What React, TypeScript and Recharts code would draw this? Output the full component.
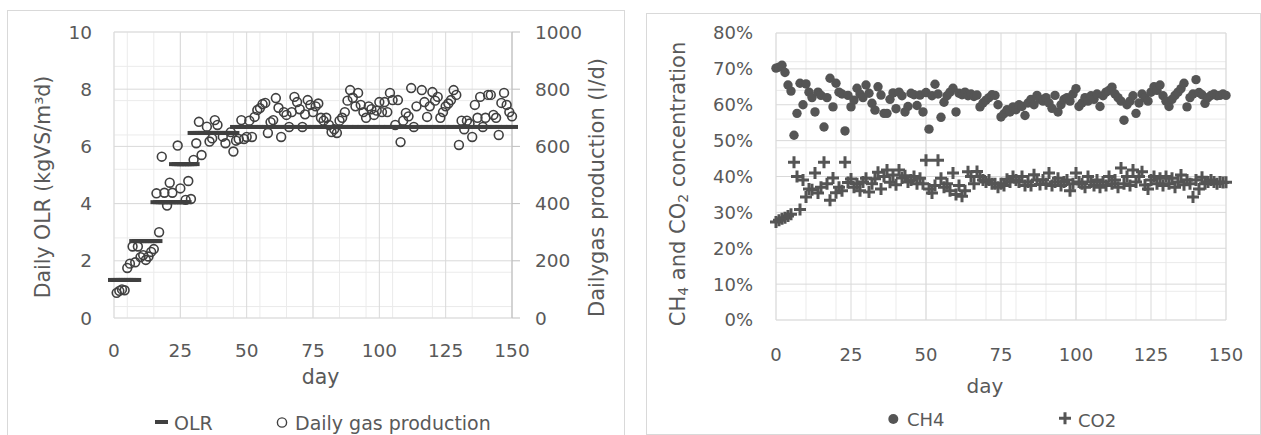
import React from 'react';
import { ScatterChart, Scatter, XAxis, YAxis, CartesianGrid, Legend, Label } from 'recharts';

const FONT = 'DejaVu Sans';
const TEXT = '#595959';
const MARK = '#404040';
const DOT = '#555555';
const GRID = '#d9d9d9';
const GRID_MINOR = '#ebebeb';

const dayTicks = [0, 25, 50, 75, 100, 125, 150];
const dayMinorTicks = [0, 5, 10, 15, 20, 25, 30, 35, 40, 45, 50, 55, 60, 65, 70, 75, 80, 85, 90, 95, 100, 105, 110, 115, 120, 125, 130, 135, 140, 145, 150];
const olrTicks = [0, 2, 4, 6, 8, 10];
const olrMinorTicks = [0, 0.4, 0.8, 1.2, 1.6, 2, 2.4, 2.8, 3.2, 3.6, 4, 4.4, 4.8, 5.2, 5.6, 6, 6.4, 6.8, 7.2, 7.6, 8, 8.4, 8.8, 9.2, 9.6, 10];
const gasTicks = [0, 200, 400, 600, 800, 1000];
const pctTicks = [0, 10, 20, 30, 40, 50, 60, 70, 80];
const pctMinorTicks = [0, 2, 4, 6, 8, 10, 12, 14, 16, 18, 20, 22, 24, 26, 28, 30, 32, 34, 36, 38, 40, 42, 44, 46, 48, 50, 52, 54, 56, 58, 60, 62, 64, 66, 68, 70, 72, 74, 76, 78, 80];

// OLR (kgVS/m3d), [day, value]
const olr: [number, number][] = [
  [0, 1.33], [1, 1.33], [2, 1.33], [3, 1.33], [4, 1.33], [5, 1.33], [6, 1.33], [7, 1.33], [8, 1.33],
  [8, 2.69], [9, 2.69], [10, 2.69], [11, 2.69], [12, 2.69], [13, 2.69], [14, 2.69], [15, 2.69], [16, 2.69],
  [16, 4.05], [17, 4.05], [18, 4.05], [19, 4.05], [20, 4.05], [21, 4.05], [22, 4.05], [23, 4.05], [24, 4.05], [25, 4.05], [26, 4.05], [27, 4.05],
  [23, 5.38], [24, 5.38], [25, 5.38], [26, 5.38], [27, 5.38], [28, 5.38], [29, 5.38], [30, 5.38],
  [30, 6.47], [31, 6.47], [32, 6.47], [33, 6.47], [34, 6.47], [35, 6.47], [36, 6.47], [37, 6.47], [38, 6.47], [39, 6.47], [40, 6.47], [41, 6.47], [42, 6.47], [43, 6.47], [44, 6.47], [45, 6.47],
  [46, 6.68], [48, 6.68], [50, 6.68], [52, 6.68], [54, 6.68], [56, 6.68], [58, 6.68], [60, 6.68], [62, 6.68], [64, 6.68],
  [66, 6.68], [68, 6.68], [70, 6.68], [72, 6.68], [74, 6.68], [76, 6.68], [78, 6.68], [80, 6.68], [82, 6.68], [84, 6.68],
  [86, 6.68], [88, 6.68], [90, 6.68], [92, 6.68], [94, 6.68], [96, 6.68], [98, 6.68], [100, 6.68], [102, 6.68], [104, 6.68],
  [106, 6.68], [108, 6.68], [110, 6.68], [112, 6.68], [114, 6.68], [116, 6.68], [118, 6.68], [120, 6.68], [122, 6.68], [124, 6.68],
  [126, 6.68], [128, 6.68], [130, 6.68], [132, 6.68], [134, 6.68], [136, 6.68], [138, 6.68], [140, 6.68], [142, 6.68], [144, 6.68],
  [146, 6.68], [148, 6.68], [150, 6.68],
];

// daily gas production (l/d), [day, value]
const gasProduction: [number, number][] = [
  [1, 88], [2, 95], [3, 100], [4, 97], [5, 175], [6, 190], [7, 250], [8, 195], [9, 250], [10, 213],
  [11, 220], [12, 203], [13, 215], [14, 231], [15, 241], [16, 436], [17, 300], [18, 564], [19, 438], [20, 393],
  [21, 473], [22, 438], [24, 603], [25, 453], [27, 413], [28, 479], [29, 416], [30, 553], [31, 611], [32, 686],
  [33, 570], [35, 669], [36, 617], [37, 628], [38, 692], [39, 675], [41, 634], [42, 611], [44, 650], [45, 582],
  [46, 620], [47, 626], [48, 692], [49, 626], [50, 633], [51, 690], [52, 633], [53, 703], [54, 727], [55, 734],
  [56, 748], [57, 752], [58, 647], [59, 685], [60, 692], [61, 769], [62, 735], [63, 633], [64, 720], [65, 710],
  [66, 668], [67, 720], [68, 773], [69, 755], [70, 730], [71, 668], [72, 712], [73, 762], [74, 745], [75, 720],
  [76, 740], [77, 750], [78, 700], [79, 690], [80, 700], [81, 675], [82, 650], [83, 660], [84, 647], [85, 690],
  [86, 700], [87, 720], [88, 760], [89, 797], [90, 770], [91, 740], [92, 787], [93, 745], [94, 720], [95, 700],
  [96, 740], [97, 730], [98, 710], [99, 725], [100, 755], [101, 720], [102, 755], [103, 720], [104, 787], [105, 762],
  [106, 675], [107, 762], [108, 615], [109, 690], [110, 717], [111, 705], [112, 804], [113, 668], [114, 740], [116, 797],
  [117, 755], [118, 703], [119, 740], [120, 790], [121, 760], [122, 773], [123, 700], [124, 720], [125, 740], [126, 750],
  [127, 762], [128, 797], [129, 780], [130, 605], [131, 690], [132, 660], [133, 690], [134, 680], [135, 633], [136, 745],
  [137, 700], [138, 773], [139, 668], [140, 700], [141, 780], [142, 780], [143, 710], [144, 700], [145, 640], [146, 752],
  [147, 787], [148, 745], [149, 720], [150, 705],
];

// CH4 content (%), [day, value]
const ch4: [number, number][] = [
  [0, 70.2], [1, 70.5], [2, 71.0], [3, 69.0], [4, 65.5], [5, 63.8], [6, 51.5], [7, 57.6], [8, 66.0], [9, 60.0],
  [10, 65.8], [11, 63.5], [12, 62.0], [13, 58.0], [14, 63.5], [15, 62.6], [16, 53.8], [17, 62.0], [18, 67.4], [19, 59.4],
  [20, 66.0], [21, 63.5], [22, 63.0], [23, 52.7], [24, 62.6], [25, 59.4], [26, 61.3], [27, 64.6], [28, 63.0], [29, 62.0],
  [30, 65.5], [31, 63.2], [32, 60.4], [33, 58.5], [34, 65.0], [35, 62.7], [36, 57.6], [37, 57.6], [38, 61.5], [39, 63.3],
  [40, 58.9], [41, 63.5], [42, 62.5], [43, 58.0], [44, 59.5], [45, 63.2], [46, 62.8], [47, 59.8], [48, 62.7], [49, 58.0],
  [50, 63.4], [51, 53.2], [52, 62.5], [53, 65.7], [54, 63.0], [55, 56.5], [56, 60.7], [57, 62.5], [58, 63.5], [59, 64.6],
  [60, 58.0], [61, 63.2], [62, 62.8], [63, 63.5], [64, 62.5], [65, 63.0], [66, 62.3], [67, 62.7], [68, 59.4], [69, 60.5],
  [70, 61.3], [71, 62.0], [72, 62.8], [73, 62.6], [74, 60.0], [75, 56.6], [76, 57.5], [77, 58.6], [78, 58.0], [79, 59.4],
  [80, 58.6], [81, 60.0], [82, 59.5], [83, 57.0], [84, 60.5], [85, 61.5], [86, 60.0], [87, 62.6], [88, 61.5], [89, 61.0],
  [90, 62.0], [91, 60.5], [92, 59.0], [93, 62.6], [94, 58.0], [95, 60.0], [96, 61.5], [97, 62.0], [98, 61.0], [99, 63.0],
  [100, 64.5], [101, 59.5], [102, 60.5], [103, 62.0], [104, 61.0], [105, 62.5], [106, 61.5], [107, 63.0], [108, 59.5], [109, 62.5],
  [110, 63.5], [111, 64.0], [112, 64.9], [113, 63.0], [114, 62.0], [115, 61.0], [116, 55.7], [117, 60.0], [118, 61.0], [119, 62.5],
  [120, 57.6], [121, 60.5], [122, 63.0], [123, 62.0], [124, 61.0], [125, 63.5], [126, 65.0], [127, 64.0], [128, 65.5], [129, 62.5],
  [130, 61.0], [131, 59.5], [132, 61.5], [133, 62.6], [134, 63.5], [135, 64.5], [136, 66.0], [137, 59.4], [138, 62.0], [139, 63.0],
  [140, 67.0], [141, 63.4], [142, 62.8], [143, 60.4], [144, 62.0], [145, 62.6], [146, 63.0], [147, 62.5], [148, 62.6], [149, 63.0],
  [150, 62.6],
];

// CO2 content (%), [day, value]
const co2: [number, number][] = [
  [0, 27.3], [1, 27.8], [2, 28.2], [3, 28.5], [4, 29.0], [5, 29.5], [6, 44.0], [7, 40.0], [8, 30.8], [9, 39.0],
  [10, 34.3], [11, 36.5], [12, 36.3], [13, 41.0], [14, 35.4], [15, 37.0], [16, 44.0], [17, 38.0], [18, 33.4], [19, 39.6],
  [20, 35.5], [21, 37.0], [22, 36.0], [23, 44.0], [24, 38.3], [25, 39.3], [26, 37.0], [27, 38.0], [28, 36.0], [29, 38.5],
  [30, 39.5], [31, 35.7], [32, 38.0], [33, 39.4], [34, 41.2], [35, 36.5], [36, 40.0], [37, 41.8], [38, 38.4], [39, 40.4],
  [40, 37.7], [41, 41.8], [42, 39.6], [43, 40.2], [44, 38.5], [45, 39.0], [46, 40.0], [47, 38.0], [48, 39.5], [49, 38.0],
  [50, 44.5], [51, 36.5], [52, 35.4], [53, 37.5], [54, 44.5], [55, 39.5], [56, 37.0], [57, 38.0], [58, 36.0], [59, 41.0],
  [60, 35.0], [61, 37.5], [62, 34.5], [63, 36.0], [64, 41.3], [65, 40.0], [66, 38.0], [67, 41.4], [68, 40.0], [69, 39.0],
  [70, 38.5], [71, 39.0], [72, 38.0], [73, 38.0], [74, 37.0], [75, 38.0], [76, 37.5], [77, 39.2], [78, 38.5], [79, 40.0],
  [80, 39.0], [81, 38.5], [82, 40.0], [83, 37.5], [84, 38.5], [85, 37.5], [86, 40.5], [87, 39.0], [88, 37.8], [89, 39.0],
  [90, 38.0], [91, 41.0], [92, 37.5], [93, 38.5], [94, 39.5], [95, 37.5], [96, 38.5], [97, 39.0], [98, 36.0], [99, 38.0],
  [100, 41.0], [101, 38.5], [102, 38.0], [103, 37.0], [104, 40.0], [105, 38.5], [106, 37.5], [107, 39.0], [108, 37.0], [109, 38.5],
  [110, 37.5], [111, 40.0], [112, 38.0], [113, 39.0], [114, 37.0], [115, 42.4], [116, 38.0], [117, 40.0], [118, 37.5], [119, 41.8],
  [120, 38.5], [121, 40.0], [122, 41.3], [123, 37.6], [124, 36.5], [125, 39.0], [126, 40.0], [127, 38.0], [128, 39.5], [129, 37.5],
  [130, 40.0], [131, 38.0], [132, 39.5], [133, 37.0], [134, 38.5], [135, 40.4], [136, 37.7], [137, 39.0], [138, 38.0], [139, 34.3],
  [140, 39.0], [141, 36.5], [142, 39.8], [143, 38.0], [144, 38.5], [145, 39.0], [146, 38.5], [147, 38.0], [148, 38.5], [149, 38.3],
  [150, 38.4],
];

const toPoints = (rows: [number, number][]) => rows.map(([x, y]) => ({ x, y }));

const tickStyle = (size: number) => ({ fill: TEXT, fontSize: size, fontFamily: FONT });

const DashMark = (p: any) => <rect x={p.cx - 6} y={p.cy - 2} width={12} height={4} fill={MARK} />;
const RingMark = (p: any) => <circle cx={p.cx} cy={p.cy} r={4.4} fill="none" stroke={MARK} strokeWidth={1.6} />;
const DotMark = (p: any) => <circle cx={p.cx} cy={p.cy} r={4.7} fill={DOT} />;
const PlusMark = (p: any) => (
  <path d={`M${p.cx - 6},${p.cy}h12M${p.cx},${p.cy - 6}v12`} stroke={DOT} strokeWidth={3} fill="none" />
);

function LoadingChart() {
  return (
    <ScatterChart width={616} height={425} margin={{ top: 22, right: 41, bottom: 37, left: 47 }}>
      <XAxis xAxisId="minor" type="number" dataKey="x" domain={[0, 150]} ticks={dayMinorTicks} allowDataOverflow hide />
      <YAxis yAxisId="minor" type="number" dataKey="y" domain={[0, 10]} ticks={olrMinorTicks} allowDataOverflow hide />
      <CartesianGrid xAxisId="minor" yAxisId="minor" stroke={GRID_MINOR} />
      <CartesianGrid yAxisId="left" stroke={GRID} />
      <XAxis type="number" dataKey="x" domain={[0, 150]} ticks={dayTicks} interval={0} height={80}
        axisLine={false} tickLine={false} tickSize={0} tickMargin={26} tick={tickStyle(18.5)}>
        <Label content={() => (
          <text x={313.5} y={374.3} textAnchor="middle" fill={TEXT} fontSize={20.5} fontFamily={FONT}>day</text>
        )} />
      </XAxis>
      <YAxis yAxisId="left" type="number" dataKey="y" domain={[0, 10]} ticks={olrTicks} interval={0} width={60}
        axisLine={false} tickLine={false} tickSize={0} tickMargin={22} tick={tickStyle(18.5)}>
        <Label content={() => (
          <text x={36} y={177} transform="rotate(-90 36 177)" textAnchor="middle" dominantBaseline="central"
            fill={TEXT} fontSize={20.5} fontFamily={FONT}>Daily OLR (kgVS/m³d)</text>
        )} />
      </YAxis>
      <YAxis yAxisId="right" orientation="right" type="number" dataKey="y" domain={[0, 1000]} ticks={gasTicks} interval={0}
        width={70} axisLine={{ stroke: '#bfbfbf' }} tickLine={{ stroke: '#bfbfbf' }} tickSize={8} tickMargin={15}
        tick={tickStyle(18.5)}>
        <Label content={() => (
          <text x={590} y={177.5} transform="rotate(-90 590 177.5)" textAnchor="middle" dominantBaseline="central"
            fill={TEXT} fontSize={21} fontFamily={FONT}>Dailygas production (l/d)</text>
        )} />
      </YAxis>
      <Scatter name="Daily gas production" yAxisId="right" data={toPoints(gasProduction)} shape={RingMark} isAnimationActive={false} />
      <Scatter name="OLR" yAxisId="left" data={toPoints(olr)} shape={DashMark} isAnimationActive={false} />
      <Legend layout="horizontal" verticalAlign="middle" align="center"
        wrapperStyle={{ top: 390, left: 0, width: 616, height: 35 }}
        content={() => (
          <svg width={616} height={35} style={{ display: 'block', overflow: 'visible' }}>
            <rect x={148} y={20} width={13} height={4} fill={MARK} />
            <text x={167} y={30} fill={TEXT} fontSize={19} fontFamily={FONT}>OLR</text>
            <circle cx={275} cy={22.5} r={4.6} fill="none" stroke={MARK} strokeWidth={1.4} />
            <text x={288} y={30} fill={TEXT} fontSize={19} fontFamily={FONT}>Daily gas production</text>
          </svg>
        )} />
    </ScatterChart>
  );
}

function CompositionChart() {
  return (
    <ScatterChart width={614} height={420} margin={{ top: 20, right: 34, bottom: 33, left: 60 }}>
      <XAxis xAxisId="minor" type="number" dataKey="x" domain={[0, 150]} ticks={dayMinorTicks} allowDataOverflow hide />
      <YAxis yAxisId="minor" type="number" dataKey="y" domain={[0, 80]} ticks={pctMinorTicks} allowDataOverflow hide />
      <CartesianGrid xAxisId="minor" yAxisId="minor" stroke={GRID_MINOR} />
      <CartesianGrid stroke={GRID} />
      <XAxis type="number" dataKey="x" domain={[0, 150]} ticks={dayTicks} interval={0} height={80}
        axisLine={false} tickLine={false} tickSize={0} tickMargin={28} tick={tickStyle(18)}>
        <Label content={() => (
          <text x={339} y={380.3} textAnchor="middle" fill={TEXT} fontSize={20} fontFamily={FONT}>day</text>
        )} />
      </XAxis>
      <YAxis type="number" dataKey="y" domain={[0, 80]} ticks={pctTicks} interval={0} width={70}
        axisLine={false} tickLine={false} tickSize={0} tickMargin={23} tick={tickStyle(18)}
        tickFormatter={(v: number) => `${v}%`}>
        <Label content={() => (
          <text x={32} y={171} transform="rotate(-90 32 171)" textAnchor="middle" dominantBaseline="central"
            fill={TEXT} fontSize={21} fontFamily={FONT}>
            CH<tspan fontSize={14} dy={5}>4</tspan><tspan dy={-5}> and CO</tspan><tspan fontSize={14} dy={5}>2</tspan><tspan dy={-5}> concentration</tspan>
          </text>
        )} />
      </YAxis>
      <Scatter name="CH4" data={toPoints(ch4)} shape={DotMark} isAnimationActive={false} />
      <Scatter name="CO2" data={toPoints(co2)} shape={PlusMark} isAnimationActive={false} />
      <Legend layout="horizontal" verticalAlign="middle" align="center"
        wrapperStyle={{ top: 380, left: 0, width: 614, height: 40 }}
        content={() => (
          <svg width={614} height={40} style={{ display: 'block', overflow: 'visible' }}>
            <circle cx={247.3} cy={26} r={5} fill={DOT} />
            <text x={261} y={33} fill={TEXT} fontSize={18} fontFamily={FONT}>CH4</text>
            <path d="M413,25.3h12M419,19.3v12" stroke={DOT} strokeWidth={3} fill="none" />
            <text x={432} y={33.7} fill={TEXT} fontSize={18} fontFamily={FONT}>CO2</text>
          </svg>
        )} />
    </ScatterChart>
  );
}

export default function App() {
  return (
    <div style={{ position: 'absolute', left: 0, top: 0, width: 1261, height: 435, background: '#fff', overflow: 'hidden' }}>
      <div style={{ position: 'absolute', left: 7, top: 10, width: 616, height: 440, border: `1px solid ${GRID}` }} />
      <div style={{ position: 'absolute', left: 646, top: 13, width: 613, height: 420, border: `1px solid ${GRID}` }} />
      <div style={{ position: 'absolute', left: 7, top: 10 }}>
        <LoadingChart />
      </div>
      <div style={{ position: 'absolute', left: 646, top: 13 }}>
        <CompositionChart />
      </div>
    </div>
  );
}
